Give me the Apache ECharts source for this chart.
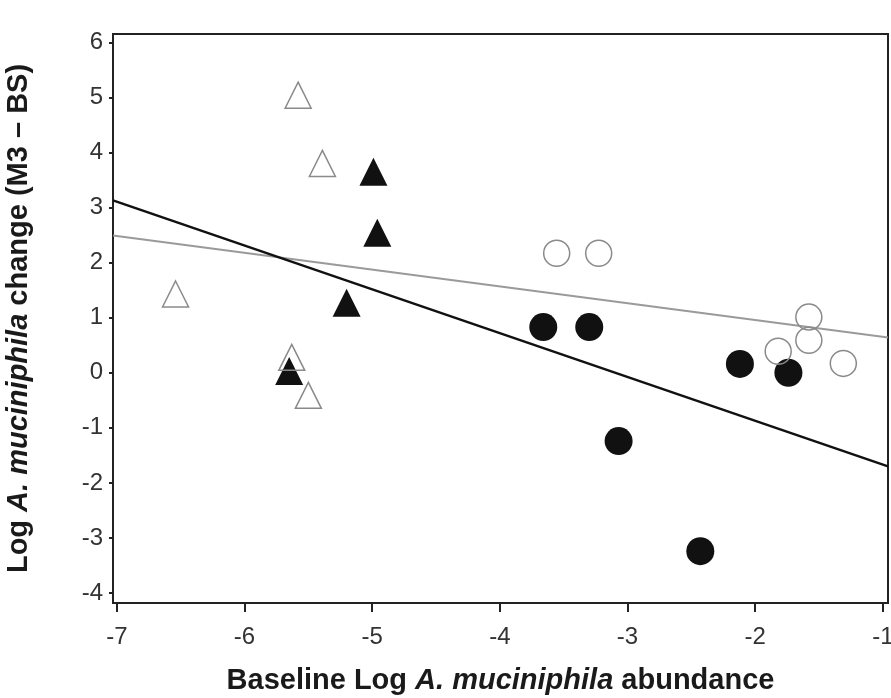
<!DOCTYPE html>
<html>
<head>
<meta charset="utf-8">
<script src="https://cdn.jsdelivr.net/npm/echarts@6/dist/echarts.min.js"></script>
<style>
  html, body { margin: 0; padding: 0; background: #fff; }
  #chart { width: 891px; height: 698px; }
</style>
</head>
<body>
<div id="chart"></div>
<script>
// tick values
const xTicks = [-7, -6, -5, -4, -3, -2, -1];
const yTicks = [-4, -3, -2, -1, 0, 1, 2, 3, 4, 5, 6];

// points [baseline, change]
const openTriangles = [[-5.58, 5.04], [-5.39, 3.80], [-6.54, 1.43], [-5.63, 0.28], [-5.50, -0.41]];
const filledTriangles = [[-4.99, 3.65], [-4.96, 2.54], [-5.20, 1.27], [-5.65, 0.03]];
const filledCircles = [[-3.66, 0.83], [-3.30, 0.83], [-3.07, -1.24], [-2.43, -3.24], [-2.12, 0.16], [-1.74, 0.0]];
const openCircles = [[-3.555, 2.17], [-3.226, 2.17], [-1.82, 0.39], [-1.58, 1.01], [-1.58, 0.59], [-1.31, 0.17]];

// fit lines
const blackFit = [[-7.03, 3.13], [-0.96, -1.70]];
const grayFit = [[-7.03, 2.49], [-0.96, 0.64]];

const chart = echarts.init(document.getElementById('chart'));
const font = '"Liberation Sans", Arial, sans-serif';
const axisColor = '#222';

const nameStyle = {
  fontFamily: font, fontSize: 29, fontWeight: 'bold', color: '#1a1a1a',
  rich: { i: { fontFamily: font, fontSize: 29, fontWeight: 'bold', fontStyle: 'italic', color: '#1a1a1a' } }
};

const option = {
  animation: false,
  grid: {
    left: 113, right: 3, top: 34, bottom: 95,
    outerBoundsMode: 'none',
    containLabel: false,
    show: true, borderColor: axisColor, borderWidth: 2
  },
  xAxis: {
    type: 'value',
    min: -7.03,
    max: -0.96,
    name: 'Baseline Log {i|A. muciniphila} abundance',
    nameLocation: 'middle',
    nameGap: 63,
    nameTextStyle: nameStyle,
    axisLine: { show: true, onZero: false, lineStyle: { color: axisColor, width: 2 } },
    axisTick: { show: true, customValues: xTicks, length: 9, lineStyle: { color: axisColor, width: 2 } },
    axisLabel: { customValues: xTicks, fontFamily: font, fontSize: 24, color: '#333', margin: 22 },
    splitLine: { show: false }
  },
  yAxis: {
    type: 'value',
    min: -4.18,
    max: 6.15,
    name: 'Log {i|A. muciniphila} change (M3 – BS)',
    nameLocation: 'middle',
    nameGap: 80,
    nameRotate: 90,
    nameTextStyle: nameStyle,
    axisLine: { show: true, onZero: false, lineStyle: { color: axisColor, width: 2 } },
    axisTick: { show: true, customValues: yTicks, length: 4, lineStyle: { color: axisColor, width: 2 } },
    axisLabel: { customValues: yTicks, fontFamily: font, fontSize: 24, color: '#333', margin: 10 },
    splitLine: { show: false }
  },
  series: [
    {
      type: 'line', data: grayFit, symbol: 'none', z: 1,
      lineStyle: { color: '#9a9a9a', width: 2 }
    },
    {
      type: 'line', data: blackFit, symbol: 'none', z: 1,
      lineStyle: { color: '#111', width: 2.5 }
    },
    {
      type: 'scatter', data: filledTriangles, symbol: 'triangle', symbolSize: 28, z: 2,
      itemStyle: { color: '#111', opacity: 1 }
    },
    {
      type: 'scatter', data: filledCircles, symbol: 'circle', symbolSize: 28, z: 2,
      itemStyle: { color: '#111', opacity: 1 }
    },
    {
      type: 'scatter', data: openTriangles, symbol: 'triangle', symbolSize: 26, z: 3,
      itemStyle: { color: 'rgba(255,255,255,0)', borderColor: '#8a8a8a', borderWidth: 1.5, opacity: 1 }
    },
    {
      type: 'scatter', data: openCircles, symbol: 'circle', symbolSize: 26, z: 3,
      itemStyle: { color: 'rgba(255,255,255,0)', borderColor: '#8a8a8a', borderWidth: 1.5, opacity: 1 }
    }
  ]
};

chart.setOption(option);
</script>
</body>
</html>
